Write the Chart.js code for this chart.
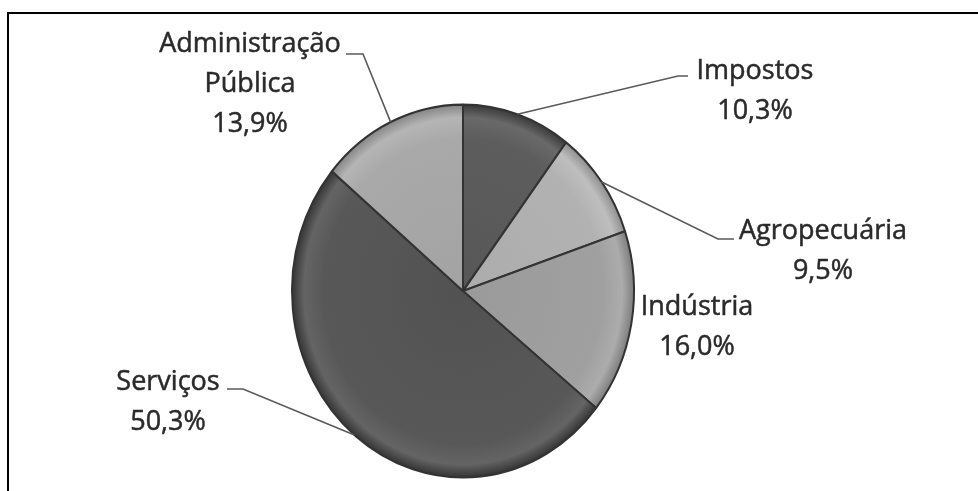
<!DOCTYPE html>
<html lang="pt">
<head>
<meta charset="UTF-8">
<meta name="viewport" content="width=device-width, initial-scale=1.0">
<title>Participação no PIB</title>
<script src="https://cdn.jsdelivr.net/npm/chart.js"></script>
<style>
    html, body {
        margin: 0;
        padding: 0;
        background-color: #ffffff;
    }

    .quadro {
        position: relative;
        width: 978px;
        height: 491px;
        overflow: hidden;
    }

    /* moldura cortada: só aparecem o topo e a esquerda */
    .moldura {
        position: absolute;
        left: 7px;
        top: 12px;
        right: -10px;
        bottom: -10px;
        border-top: 2px solid #000;
        border-left: 2px solid #000;
    }

    canvas {
        position: absolute;
        left: 0;
        top: 0;
    }
</style>
</head>
<body>

<div class="quadro">
    <canvas id="graficoPizza"></canvas>
    <div class="moldura"></div>
</div>

<script>
    // Dados do gráfico
    const setores = ['Impostos', 'Agropecuária', 'Indústria', 'Serviços', 'Administração Pública'];
    const participacao = [10.3, 9.5, 16.0, 50.3, 13.9];
    const linhasRotulo = [['Impostos'], ['Agropecuária'], ['Indústria'], ['Serviços'], ['Administração', 'Pública']];
    const coresBase = ['#5d5d5d', '#b2b2b2', '#a0a0a0', '#585858', '#a9a9a9'];

    // Layout dos rótulos (x do centro do texto, linha de base da primeira linha)
    const posRotulos = [
        { x: 755, y: 79 },
        { x: 823, y: 239 },
        { x: 697, y: 315 },
        { x: 168, y: 390 },
        { x: 250, y: 52 }
    ];
    // Linhas de chamada: cotovelo e ponta junto ao texto
    const guias = [
        [[678, 76], [688, 76]],
        [[718, 239], [734, 239]],
        null,
        [[243, 389], [227, 389]],
        [[363, 54], [346, 54]]
    ];

    const RAIO = 171;
    const ESTICA_Y = 1.09; // a pizza original é levemente oval
    const ALTURA_LINHA = 40;

    function ajustaCor(hex, delta) {
        const n = parseInt(hex.slice(1), 16);
        const c = [(n >> 16) & 255, (n >> 8) & 255, n & 255].map(v => Math.max(0, Math.min(255, v + delta)));
        return 'rgb(' + c.join(',') + ')';
    }

    function corFatia(context) {
        const base = coresBase[context.dataIndex];
        const chart = context.chart;
        const area = chart.chartArea;
        if (!area) return base;
        const cx = (area.left + area.right) / 2;
        const cy = (area.top + area.bottom) / 2;
        const g = chart.ctx.createRadialGradient(cx, cy, 0, cx, cy, RAIO);
        g.addColorStop(0, ajustaCor(base, -6));
        g.addColorStop(0.82, base);
        g.addColorStop(0.93, ajustaCor(base, 12));
        g.addColorStop(1, ajustaCor(base, -35));
        return g;
    }

    // Deixa a pizza oval durante o desenho dos dados
    const pizzaOval = {
        id: 'pizzaOval',
        beforeDatasetsDraw(chart) {
            const a = chart.chartArea;
            const cx = (a.left + a.right) / 2;
            const cy = (a.top + a.bottom) / 2;
            const ctx = chart.ctx;
            ctx.save();
            ctx.translate(cx, cy);
            ctx.scale(1, ESTICA_Y);
            ctx.translate(-cx, -cy);
        },
        afterDatasetsDraw(chart) {
            chart.ctx.restore();
        }
    };

    // Rótulos com linhas de chamada
    const rotulosExternos = {
        id: 'rotulosExternos',
        afterDraw(chart) {
            const ctx = chart.ctx;
            const meta = chart.getDatasetMeta(0);
            ctx.save();
            meta.data.forEach((arco, i) => {
                const meio = (arco.startAngle + arco.endAngle) / 2;
                const ax = arco.x + arco.outerRadius * Math.cos(meio);
                const ay = arco.y + arco.outerRadius * Math.sin(meio) * ESTICA_Y;

                if (guias[i]) {
                    ctx.beginPath();
                    ctx.moveTo(ax, ay);
                    ctx.lineTo(guias[i][0][0], guias[i][0][1]);
                    ctx.lineTo(guias[i][1][0], guias[i][1][1]);
                    ctx.strokeStyle = '#5a5a5a';
                    ctx.lineWidth = 1.6;
                    ctx.stroke();
                }

                const linhas = linhasRotulo[i].concat([participacao[i].toFixed(1).replace('.', ',') + '%']);
                ctx.fillStyle = '#2a2a2a';
                ctx.strokeStyle = '#2a2a2a';
                ctx.lineWidth = 0.5;
                ctx.font = '27px "Open Sans", sans-serif';
                ctx.textAlign = 'center';
                ctx.textBaseline = 'alphabetic';
                linhas.forEach((t, j) => {
                    ctx.fillText(t, posRotulos[i].x, posRotulos[i].y + j * ALTURA_LINHA);
                    ctx.strokeText(t, posRotulos[i].x, posRotulos[i].y + j * ALTURA_LINHA);
                });
            });
            ctx.restore();
        }
    };

    const ctxPizza = document.getElementById('graficoPizza').getContext('2d');
    new Chart(ctxPizza, {
        type: 'pie',
        data: {
            labels: setores,
            datasets: [{
                data: participacao,
                backgroundColor: corFatia,
                borderColor: '#333333',
                borderWidth: 2,
                clip: false
            }]
        },
        options: {
            responsive: true,
            maintainAspectRatio: false,
            animation: false,
            radius: RAIO,
            layout: {
                padding: { left: 0, right: 52, top: 91, bottom: 0 }
            },
            plugins: {
                legend: { display: false },
                tooltip: { enabled: false }
            }
        },
        plugins: [pizzaOval, rotulosExternos]
    });
</script>

</body>
</html>
